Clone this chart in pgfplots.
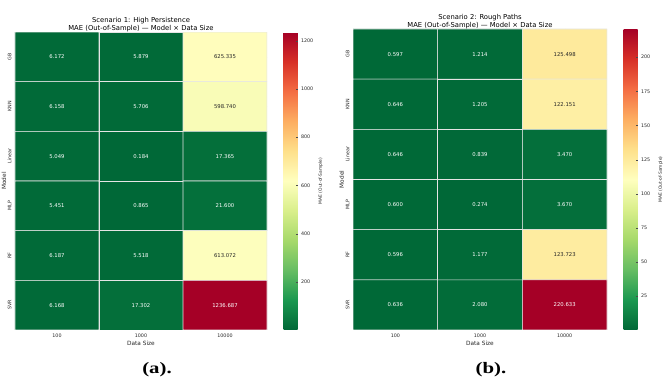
\documentclass[border=0pt]{standalone}
\usepackage{fontspec}
\setmainfont{DejaVu Sans}
\newfontfamily\capfont{Liberation Serif}
\usepackage{pgfplots}
\usepackage{pgfplotstable}
\pgfplotsset{compat=1.18}
\pgfplotsset{
  /pgf/number format/assume math mode=true,
  /pgf/number format/1000 sep={},
  colormap={rdylgnr}{rgb255=(0,104,55) rgb255=(26,152,80) rgb255=(102,189,99) rgb255=(166,217,106) rgb255=(217,239,139) rgb255=(255,255,191) rgb255=(254,224,139) rgb255=(253,174,97) rgb255=(244,109,67) rgb255=(215,48,39) rgb255=(165,0,38)},
  hm/.style={
    scale only axis, anchor=south west,
    enlargelimits=false,
    xmin=-0.5, xmax=2.5, ymin=-0.5, ymax=5.5, y dir=reverse,
    xtick={0,1,2}, xticklabels={100,1000,10000},
    ytick={0,...,5}, yticklabels={GB,KNN,Linear,MLP,RF,SVR},
    yticklabel style={rotate=90},
    axis line style={draw=none},
    major tick length=1.5pt,
    tick style={black!70},
    tick label style={font=\fontsize{4.8}{5.5}\selectfont, text=black!85},
    label style={font=\fontsize{5.8}{7}\selectfont, text=black!85},
    xlabel={Data Size}, ylabel={Model},
    ylabel style={at={(axis description cs:-0.044,0.5)}, anchor=center},
    xlabel style={at={(axis description cs:0.5,0)}, anchor=center, yshift=-13pt},
    title style={font=\fontsize{6.8}{7.6}\selectfont, align=center, yshift=-9pt},
    colormap name=rdylgnr,
    colorbar,
    colorbar style={
      at={(parent axis.north east)}, anchor=north west, xshift=8pt,
      width=14pt,
      axis line style={draw=none},
      major tick length=1.5pt,
      ytick pos=right,
      tick label style={font=\fontsize{4.8}{5.5}\selectfont, text=black!85},
      ylabel={MAE (Out-of-Sample)},
      every axis y label/.style={at={(axis description cs:2.65,0.5)}, anchor=center, rotate=90, font=\fontsize{4.4}{5}\selectfont, text=black!85},
    },
  },
  txt/.style={only marks, mark=none, nodes near coords, point meta=explicit symbolic,
    nodes near coords style={anchor=center, font=\fontsize{5.3}{6}\selectfont, #1}},
}
\pgfplotstableread{
x y c
0 0 6.172
1 0 5.879
2 0 625.335
0 1 6.158
1 1 5.706
2 1 598.740
0 2 5.049
1 2 0.184
2 2 17.365
0 3 5.451
1 3 0.865
2 3 21.600
0 4 6.187
1 4 5.518
2 4 613.072
0 5 6.168
1 5 17.302
2 5 1236.687
}\dataA
\pgfplotstableread{
x y c
0 0 0.597
1 0 1.214
2 0 125.498
0 1 0.646
1 1 1.205
2 1 122.151
0 2 0.646
1 2 0.839
2 2 3.470
0 3 0.600
1 3 0.274
2 3 3.670
0 4 0.596
1 4 1.177
2 4 123.723
0 5 0.636
1 5 2.080
2 5 220.633
}\dataB
\begin{document}
\begin{tikzpicture}[x=1pt,y=1pt]
\path[use as bounding box] (0,0) rectangle (670,387);
\begin{axis}[hm, at={(15pt,57pt)}, width=252pt, height=298pt,
  point meta min=0.184, point meta max=1236.687,
  title={Scenario 1: High Persistence\\MAE (Out-of-Sample) — Model × Data Size},
  colorbar style={ytick={200,400,...,1200}}]
\addplot[matrix plot*, mesh/cols=3, point meta=explicit, draw=white!90!black, line width=0.6pt] table[meta=c]{\dataA};
\addplot[txt=white] table[meta=l]{
x y l
0 0 6.172
1 0 5.879
0 1 6.158
1 1 5.706
0 2 5.049
1 2 0.184
2 2 17.365
0 3 5.451
1 3 0.865
2 3 21.600
0 4 6.187
1 4 5.518
0 5 6.168
1 5 17.302
2 5 1236.687
};
\addplot[txt=black!85] table[meta=l]{
x y l
2 0 625.335
2 1 598.740
2 4 613.072
};
\end{axis}
\begin{axis}[hm, at={(353pt,57pt)}, width=254pt, height=301pt,
  point meta min=0.274, point meta max=220.633,
  title={Scenario 2: Rough Paths\\MAE (Out-of-Sample) — Model × Data Size},
  colorbar style={ytick={25,50,...,200}}]
\addplot[matrix plot*, mesh/cols=3, point meta=explicit, draw=white!90!black, line width=0.6pt] table[meta=c]{\dataB};
\addplot[txt=white] table[meta=l]{
x y l
0 0 0.597
1 0 1.214
0 1 0.646
1 1 1.205
0 2 0.646
1 2 0.839
2 2 3.470
0 3 0.600
1 3 0.274
2 3 3.670
0 4 0.596
1 4 1.177
0 5 0.636
1 5 2.080
2 5 220.633
};
\addplot[txt=black!85] table[meta=l]{
x y l
2 0 125.498
2 1 122.151
2 4 123.723
};
\end{axis}
\node[font=\capfont\bfseries\fontsize{16}{19}\selectfont, xscale=1.3] at (157,17) {(a).};
\node[font=\capfont\bfseries\fontsize{16}{19}\selectfont, xscale=1.3] at (491,17) {(b).};
\end{tikzpicture}
\end{document}
